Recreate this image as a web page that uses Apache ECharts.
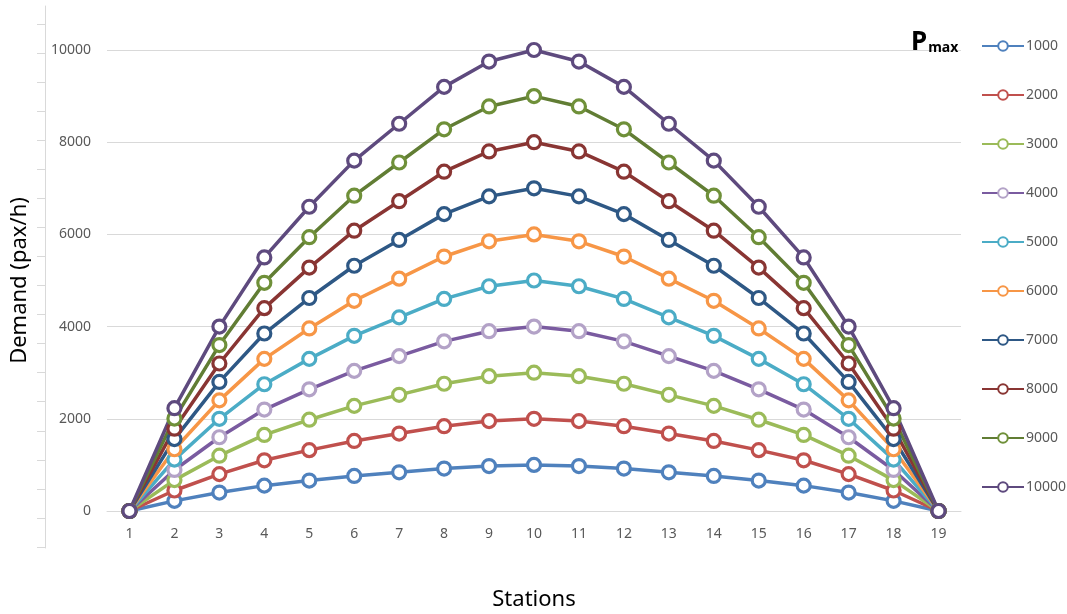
<!DOCTYPE html>
<html>
<head>
<meta charset="utf-8">
<title>Demand along the line</title>
<script src="https://cdn.jsdelivr.net/npm/echarts@6/dist/echarts.min.js"></script>
<style>
  html, body { margin: 0; padding: 0; background: #fff; }
  #chart { width: 1067px; height: 614px; }
</style>
</head>
<body>
<div id="chart"></div>
<script>
// Stations along the line
const stations = ['1','2','3','4','5','6','7','8','9','10','11','12','13','14','15','16','17','18','19'];

// Demand (pax/h) per station, one array per Pmax value
const d1000  = [0, 220, 400, 550, 660, 760, 840, 920, 975, 1000, 975, 920, 840, 760, 660, 550, 400, 220, 0];
const d2000  = [0, 445, 800, 1100, 1320, 1520, 1680, 1840, 1950, 2000, 1950, 1840, 1680, 1520, 1320, 1100, 800, 445, 0];
const d3000  = [0, 670, 1200, 1650, 1980, 2280, 2520, 2760, 2925, 3000, 2925, 2760, 2520, 2280, 1980, 1650, 1200, 670, 0];
const d4000  = [0, 890, 1600, 2200, 2640, 3040, 3360, 3680, 3900, 4000, 3900, 3680, 3360, 3040, 2640, 2200, 1600, 890, 0];
const d5000  = [0, 1115, 2000, 2750, 3300, 3800, 4200, 4600, 4875, 5000, 4875, 4600, 4200, 3800, 3300, 2750, 2000, 1115, 0];
const d6000  = [0, 1340, 2400, 3300, 3960, 4560, 5040, 5520, 5850, 6000, 5850, 5520, 5040, 4560, 3960, 3300, 2400, 1340, 0];
const d7000  = [0, 1560, 2800, 3850, 4620, 5320, 5880, 6440, 6825, 7000, 6825, 6440, 5880, 5320, 4620, 3850, 2800, 1560, 0];
const d8000  = [0, 1785, 3200, 4400, 5280, 6080, 6720, 7360, 7800, 8000, 7800, 7360, 6720, 6080, 5280, 4400, 3200, 1785, 0];
const d9000  = [0, 2005, 3600, 4950, 5940, 6840, 7560, 8280, 8775, 9000, 8775, 8280, 7560, 6840, 5940, 4950, 3600, 2005, 0];
const d10000 = [0, 2230, 4000, 5500, 6600, 7600, 8400, 9200, 9750, 10000, 9750, 9200, 8400, 7600, 6600, 5500, 4000, 2230, 0];

const seriesNames = ['1000','2000','3000','4000','5000','6000','7000','8000','9000','10000'];
const seriesData = [d1000, d2000, d3000, d4000, d5000, d6000, d7000, d8000, d9000, d10000];

// line colour and marker outline colour for each series
const lineColors   = ['#4F81BD','#C0504D','#9BBB59','#7A5BA0','#4BACC6','#F79646','#2E5885','#893533','#617D34','#5E4A7E'];
const markerColors = ['#4F81BD','#C0504D','#9BBB59','#B3A2C7','#4BACC6','#F79646','#2E5885','#893533','#6F9039','#5E4A7E'];

const labelFont = 'Noto Sans';
const gray = '#595959';
const gridGray = '#d9d9d9';

const series = seriesNames.map((name, i) => ({
  name: name,
  type: 'line',
  xAxisIndex: 0,
  yAxisIndex: 0,
  data: seriesData[i],
  symbol: 'circle',
  symbolSize: 13,
  lineStyle: { color: lineColors[i], width: 3.5 },
  itemStyle: { color: '#ffffff', borderColor: markerColors[i], borderWidth: 3.2 },
  emphasis: { disabled: true }
}));

const option = {
  animation: false,
  backgroundColor: '#ffffff',
  title: {
    text: '{p|P}{m|max}',
    left: 906,
    top: 23,
    textStyle: {
      rich: {
        p: { fontFamily: labelFont, fontSize: 26, fontWeight: 'bold', color: '#000', lineHeight: 28, verticalAlign: 'bottom' },
        m: { fontFamily: labelFont, fontSize: 14, fontWeight: 'bold', color: '#000', lineHeight: 18, verticalAlign: 'bottom', padding: [0, 0, 1, 1] }
      }
    }
  },
  legend: {
    orient: 'vertical',
    left: 976,
    top: 34,
    itemWidth: 42,
    itemHeight: 12,
    itemGap: 35,
    data: seriesNames,
    textStyle: { fontFamily: labelFont, fontSize: 14, color: gray, padding: [0, 0, 0, -3] }
  },
  grid: [
    { left: 107, top: 50, width: 854, height: 461, containLabel: false, outerBoundsMode: 'none' },
    // decorative outer axis line
    { left: 45, top: 6, width: 1, height: 542, outerBoundsMode: 'none' },
    // decorative outer axis ticks
    { left: 45, top: 24, width: 1, height: 523, outerBoundsMode: 'none' }
  ],
  xAxis: [
    {
      type: 'category',
      gridIndex: 0,
      data: stations,
      boundaryGap: true,
      axisLine: { show: true, lineStyle: { color: gridGray, width: 1 } },
      axisTick: { show: false },
      axisLabel: { fontFamily: labelFont, fontSize: 14, color: gray, margin: 16 },
      name: 'Stations',
      nameLocation: 'middle',
      nameGap: 78,
      nameTextStyle: { fontFamily: labelFont, fontSize: 22, color: '#000' }
    },
    { type: 'value', gridIndex: 1, show: false },
    { type: 'value', gridIndex: 2, show: false }
  ],
  yAxis: [
    {
      type: 'value',
      gridIndex: 0,
      min: 0,
      max: 10000,
      interval: 2000,
      axisLine: { show: false },
      axisTick: { show: false },
      splitLine: { show: true, lineStyle: { color: gridGray, width: 1 } },
      axisLabel: { fontFamily: labelFont, fontSize: 14, color: gray, margin: 16, formatter: (v) => String(v) },
      name: 'Demand (pax/h)',
      nameLocation: 'middle',
      nameGap: 76,
      nameTextStyle: { fontFamily: labelFont, fontSize: 22, color: '#000' }
    },
    {
      type: 'value',
      gridIndex: 1,
      min: 0,
      max: 1,
      axisLine: { show: true, lineStyle: { color: gridGray, width: 1 } },
      axisTick: { show: false },
      axisLabel: { show: false },
      splitLine: { show: false }
    },
    {
      type: 'value',
      gridIndex: 2,
      min: 0,
      max: 18,
      interval: 1,
      axisLine: { show: false },
      axisTick: { show: true, length: 8, lineStyle: { color: gridGray, width: 1 } },
      axisLabel: { show: false },
      splitLine: { show: false }
    }
  ],
  series: series
};

const chart = echarts.init(document.getElementById('chart'), null, { renderer: 'canvas' });
chart.setOption(option);
</script>
</body>
</html>
